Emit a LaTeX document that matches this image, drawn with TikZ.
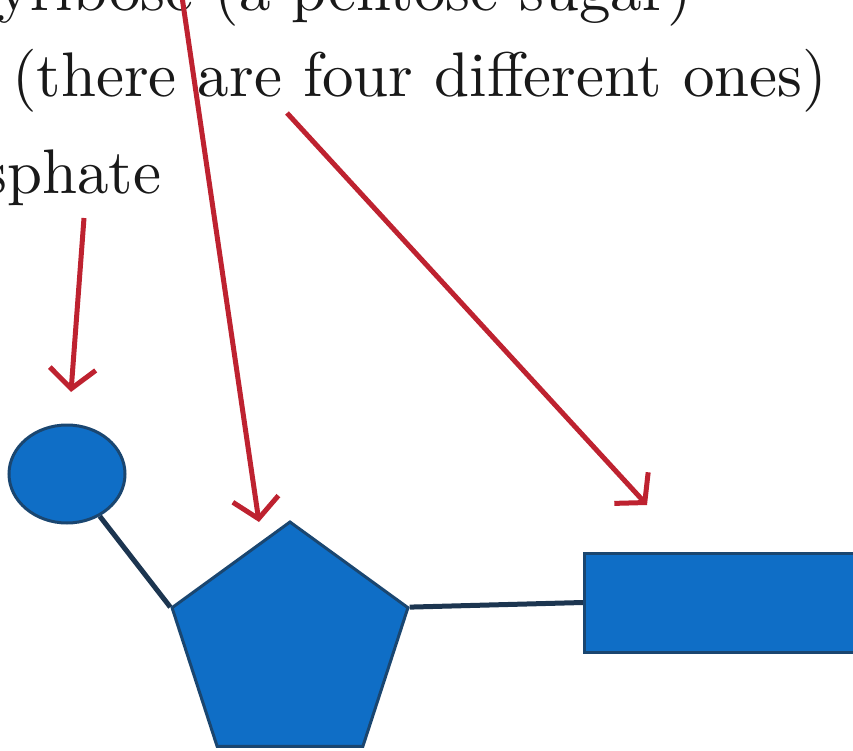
\documentclass[tikz,border=0pt]{standalone}
\usetikzlibrary{arrows.meta,shapes.geometric}
\definecolor{nucblue}{HTML}{0F6EC6}
\definecolor{nucedge}{HTML}{1A4670}
\definecolor{bond}{HTML}{1C3550}
\definecolor{arrred}{HTML}{BE2230}
\pgfdeclarelayer{bg}
\pgfsetlayers{bg,main}
\newcommand{\bigtxt}[1]{\scalebox{6.3}{\fontsize{10}{12}\selectfont #1}}
\begin{document}
\begin{tikzpicture}[x=1pt,y=-1pt,
  part/.style={fill=nucblue,draw=nucedge,line width=3pt,inner sep=0pt},
  bondline/.style={draw=bond,line width=5pt},
  pointer/.style={draw=arrred,line width=5pt,-{Straight Barb[length=20pt,width=46pt]}},
  lbl/.style={anchor=base west,inner sep=0pt,text=black!90}]
\useasboundingbox (0,0) rectangle (853,751);
\clip (0,0) rectangle (853,751);
\node[lbl] (sugarlbl) at (-3,11) {\bigtxt{yribose (a pentose sugar)}};
\node[lbl] (baselbl) at (12,97) {\bigtxt{(there are four different ones)}};
\node[lbl] (phoslbl) at (-18,194) {\bigtxt{sphate}};
\node[part,ellipse,minimum width=116pt,minimum height=98pt] (phos) at (67,474) {};
\node[part,regular polygon,regular polygon sides=5,minimum size=248pt] (sugar) at (290,646) {};
\node[part,rectangle,minimum width=330pt,minimum height=99pt,anchor=west] (base) at (583,602.5) {};
\begin{pgfonlayer}{bg}
\draw[bondline] (phos) -- (sugar.corner 2);
\draw[bondline] (sugar.corner 5) -- (base.west);
\end{pgfonlayer}
\coordinate (p1s) at (84,218);
\coordinate (p1e) at (71,392);
\coordinate (p2s) at (181,-10);
\coordinate (p2e) at (259,522);
\coordinate (p3s) at (287,113);
\coordinate (p3e) at (647,505);
\draw[pointer] (p1s) -- (p1e);
\draw[pointer] (p2s) -- (p2e);
\draw[pointer] (p3s) -- (p3e);
\end{tikzpicture}
\end{document}
